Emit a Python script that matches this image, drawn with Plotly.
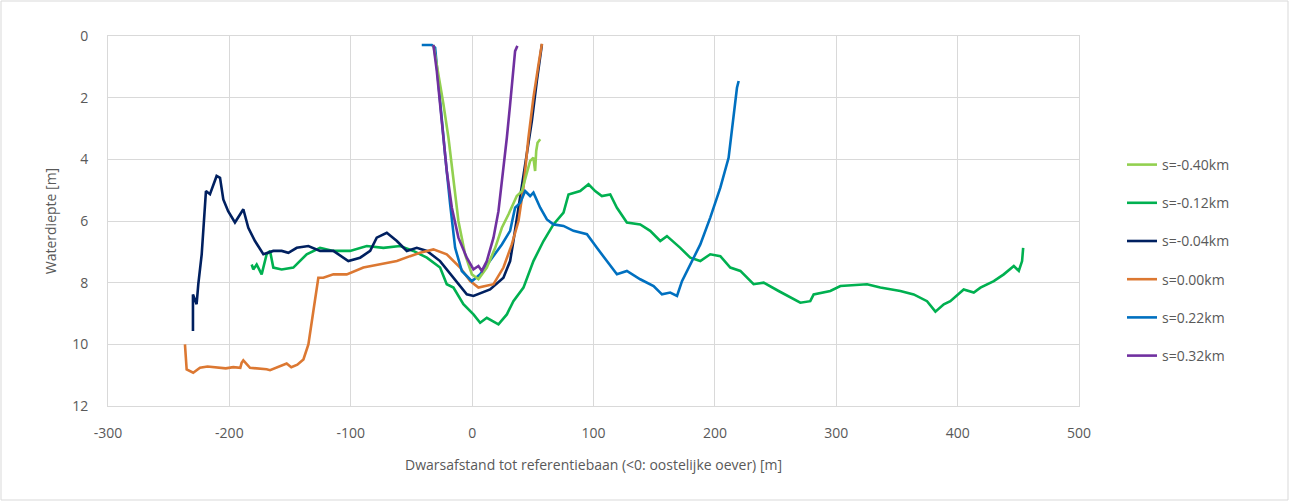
import plotly.graph_objects as go

# s=-0.40km (light green)
x_m040 = [-31.9, -27.5, -23.6, -19.5, -15.4, -11.3, -5.8, -0.2, 5.2, 12.1, 19.0, 24.5, 30.0, 36.8, 41.0, 45.1, 47.8, 50.5, 51.9, 52.8, 53.9, 56.1]
y_m040 = [0.29, 1.3, 2.22, 3.3, 4.7, 6.0, 7.08, 7.73, 7.89, 7.51, 6.87, 6.22, 5.78, 5.19, 5.03, 4.38, 4.05, 3.95, 4.38, 3.73, 3.46, 3.35]

# s=-0.12km (green)
x_m012 = [-181.6, -180.3, -177.5, -173.4, -169.3, -166.5, -163.8, -156.9, -147.3, -136.3, -125.3, -114.3, -100.6, -86.8, -73.1, -59.4, -48.4, -37.3, -26.4, -20.9, -15.4, -7.2, 1.1, 6.6, 12.1, 21.7, 28.6, 34.0, 42.3, 50.5, 58.8, 67.0, 75.3, 79.4, 89.0, 95.9, 101.4, 106.9, 113.8, 119.3, 127.5, 138.5, 146.7, 155.0, 160.5, 171.5, 179.7, 188.0, 196.2, 204.5, 212.7, 221.0, 231.9, 240.2, 252.5, 270.4, 278.6, 281.4, 295.1, 303.4, 325.4, 336.3, 352.8, 363.8, 374.8, 381.7, 388.6, 394.0, 405.0, 413.3, 418.8, 429.8, 438.0, 446.3, 450.4, 453.1, 454.0]
y_m012 = [7.41, 7.57, 7.41, 7.73, 7.08, 6.97, 7.51, 7.57, 7.51, 7.08, 6.87, 6.97, 6.97, 6.81, 6.87, 6.81, 6.97, 7.19, 7.51, 8.05, 8.16, 8.7, 9.03, 9.3, 9.14, 9.35, 9.03, 8.6, 8.16, 7.3, 6.65, 6.11, 5.73, 5.14, 5.03, 4.81, 5.03, 5.19, 5.14, 5.57, 6.05, 6.11, 6.32, 6.65, 6.49, 6.87, 7.19, 7.3, 7.08, 7.14, 7.51, 7.62, 8.05, 8.0, 8.27, 8.65, 8.6, 8.38, 8.27, 8.11, 8.05, 8.16, 8.27, 8.38, 8.6, 8.94, 8.7, 8.6, 8.22, 8.32, 8.16, 7.95, 7.73, 7.46, 7.62, 7.3, 6.87]

# s=-0.04km (navy)
x_m004 = [-230.0, -230.0, -227.0, -225.6, -222.8, -219.3, -216.0, -210.5, -207.7, -205.0, -201.0, -195.4, -188.5, -184.4, -178.9, -172.0, -163.8, -156.9, -151.4, -144.5, -134.9, -125.3, -114.3, -102.0, -92.3, -84.0, -78.6, -70.3, -62.0, -53.8, -45.6, -37.3, -26.4, -15.4, -4.4, 1.1, 14.8, 25.8, 31.3, 34.0, 38.2, 43.7, 49.2, 53.3, 57.5]
y_m004 = [9.57, 8.38, 8.7, 8.05, 7.08, 5.03, 5.13, 4.54, 4.6, 5.3, 5.68, 6.05, 5.62, 6.22, 6.65, 7.08, 6.97, 6.97, 7.03, 6.87, 6.81, 6.97, 6.97, 7.3, 7.19, 6.97, 6.54, 6.38, 6.65, 6.97, 6.87, 6.97, 7.3, 7.84, 8.38, 8.43, 8.22, 7.84, 7.3, 6.65, 5.57, 4.05, 2.76, 1.46, 0.27]

# s=0.00km (orange)
x_000 = [-236.6, -235.2, -229.8, -224.2, -218.0, -210.5, -203.0, -196.8, -191.0, -189.9, -188.5, -183.0, -176.0, -169.3, -166.5, -161.0, -152.8, -149.0, -144.0, -139.0, -134.9, -130.8, -126.7, -122.6, -114.3, -103.3, -89.6, -75.8, -62.0, -51.1, -42.9, -31.9, -20.9, -9.9, -1.6, 5.2, 17.6, 25.8, 32.7, 38.2, 42.3, 46.4, 50.5, 54.7, 57.5]
y_000 = [10.0, 10.81, 10.92, 10.76, 10.72, 10.74, 10.78, 10.74, 10.76, 10.6, 10.52, 10.76, 10.78, 10.81, 10.84, 10.76, 10.62, 10.74, 10.66, 10.49, 10.0, 8.92, 7.84, 7.84, 7.73, 7.73, 7.51, 7.4, 7.3, 7.14, 7.03, 6.92, 7.08, 7.51, 7.95, 8.16, 8.05, 7.51, 6.76, 6.0, 4.92, 3.3, 2.0, 0.92, 0.25]

# s=0.22km (blue)
x_022 = [-41.5, -33.2, -30.5, -26.4, -22.3, -18.1, -14.0, -8.5, -0.2, 6.6, 14.8, 24.5, 31.3, 35.4, 39.6, 43.7, 47.8, 50.5, 56.1, 61.6, 67.0, 75.3, 83.5, 94.6, 102.8, 111.0, 119.3, 127.5, 138.5, 149.5, 156.4, 163.2, 168.8, 172.9, 179.7, 188.0, 196.2, 204.5, 211.3, 214.1, 216.8, 218.2, 219.6]
y_022 = [0.29, 0.29, 0.38, 2.22, 3.84, 5.46, 6.87, 7.62, 7.95, 7.73, 7.3, 6.76, 6.32, 5.57, 5.41, 5.03, 5.19, 5.08, 5.57, 5.95, 6.11, 6.16, 6.32, 6.43, 6.87, 7.3, 7.73, 7.62, 7.89, 8.11, 8.38, 8.32, 8.43, 7.95, 7.41, 6.76, 5.89, 4.92, 3.95, 2.97, 2.22, 1.68, 1.46]

# s=0.32km (purple)
x_032 = [-31.9, -29.1, -25.0, -20.9, -16.7, -11.3, -4.4, 1.1, 5.2, 8.0, 12.1, 17.6, 21.7, 25.8, 28.6, 31.3, 34.0, 35.4, 37.3]
y_032 = [0.29, 1.14, 2.76, 4.38, 5.57, 6.54, 7.19, 7.57, 7.46, 7.62, 7.3, 6.54, 5.68, 4.38, 3.3, 2.22, 1.03, 0.49, 0.32]

names = ["s=-0.40km", "s=-0.12km", "s=-0.04km", "s=0.00km", "s=0.22km", "s=0.32km"]
colors = ["#92D050", "#00B050", "#002060", "#DC7832", "#0070C0", "#7030A0"]
series = [(x_m040, y_m040), (x_m012, y_m012), (x_m004, y_m004), (x_000, y_000), (x_022, y_022), (x_032, y_032)]

x_ticks = [-300, -200, -100, 0, 100, 200, 300, 400, 500]
y_ticks = [0, 2, 4, 6, 8, 10, 12]

fig = go.Figure()
order = [1, 2, 3, 4, 0, 5]
for i in order:
    xs, ys = series[i]
    fig.add_trace(go.Scatter(x=xs, y=ys, mode="lines", name=names[i],
                             legendgroup=names[i], legendrank=i + 1,
                             line=dict(color=colors[i], width=2.6)))

W, H = 1290, 502
L, R, T, B = 108, 211, 36, 96
pw, ph = W - L - R, H - T - B
font = "Open Sans, Noto Sans, sans-serif"
grey = "#595959"

fig.update_layout(
    width=W, height=H,
    margin=dict(l=L, r=R, t=T, b=B, autoexpand=False),
    paper_bgcolor="white", plot_bgcolor="white",
    font=dict(family=font, color=grey, size=14),
    xaxis=dict(range=[-300, 500], tickvals=x_ticks, ticktext=[str(v) for v in x_ticks],
               showgrid=True, gridcolor="#D9D9D9", gridwidth=1, zeroline=False,
               showline=True, linecolor="#D9D9D9", mirror=True,
               ticks="outside", ticklen=14, tickcolor="rgba(0,0,0,0)",
               tickfont=dict(size=14, color=grey),
               title=dict(text="Dwarsafstand tot referentiebaan (<0: oostelijke oever) [m]",
                          font=dict(size=14, color=grey), standoff=19)),
    yaxis=dict(range=[12, 0], tickvals=y_ticks, ticktext=[str(v) for v in y_ticks],
               showgrid=True, gridcolor="#D9D9D9", gridwidth=1, zeroline=False,
               showline=True, linecolor="#D9D9D9", mirror=True,
               ticks="outside", ticklen=16, tickcolor="rgba(0,0,0,0)",
               tickfont=dict(size=14, color=grey),
               title=dict(text="Waterdiepte [m]", font=dict(size=14, color=grey), standoff=12)),
    legend=dict(x=(1122 - L) / pw, y=1 - (149 - T) / ph, xanchor="left", yanchor="top",
                font=dict(size=14, color=grey), tracegroupgap=17,
                bgcolor="rgba(0,0,0,0)"),
    showlegend=True,
)
fig.add_shape(type="rect", xref="paper", yref="paper",
              x0=(1 - L) / pw, x1=(W - 2 - L) / pw,
              y0=1 - (H - 2 - T) / ph, y1=1 - (1 - T) / ph,
              line=dict(color="#D9D9D9", width=1), fillcolor="rgba(0,0,0,0)", layer="below")

fig.write_html("out.html", config={"displayModeBar": False},
               post_script="document.body.style.margin='0';document.body.style.overflow='hidden';")
